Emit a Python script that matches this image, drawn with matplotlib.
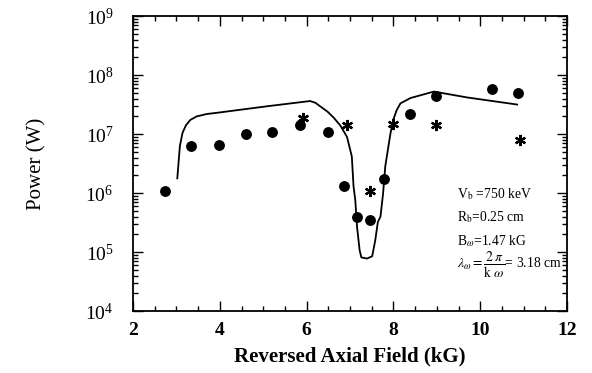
import numpy as np
import matplotlib
matplotlib.use("Agg")
import matplotlib.pyplot as plt
from matplotlib.ticker import LogLocator, MultipleLocator, NullFormatter

plt.rcParams['font.family'] = ['Liberation Serif', 'DejaVu Serif']
plt.rcParams['mathtext.fontset'] = 'stix'

# measured output power (circles)
field_meas = [2.74, 3.34, 3.98, 4.60, 5.21, 5.84, 6.48, 6.85, 7.16, 7.47, 7.77, 8.37, 8.97, 10.27, 10.86]
power_meas = [1.1e6, 6.3e6, 6.6e6, 1.0e7, 1.07e7, 1.45e7, 1.1e7, 1.3e6, 4.0e5, 3.5e5, 1.75e6, 2.15e7, 4.4e7, 5.8e7, 5.0e7]

# second data set (asterisks)
field_star = [5.91, 6.94, 7.47, 8.00, 8.97, 10.91]
power_star = [1.85e7, 1.4e7, 1.1e6, 1.5e7, 1.4e7, 7.9e6]

# simulation curve
field_sim = [3.02, 3.08, 3.14, 3.22, 3.32, 3.47, 3.70, 3.93, 5.08, 6.08, 6.20, 6.33, 6.48,
             6.62, 6.78, 6.93, 7.04, 7.08, 7.12, 7.16, 7.22, 7.26, 7.39, 7.51, 7.58, 7.64,
             7.70, 7.76, 7.81, 7.87, 7.93, 8.00, 8.07, 8.16, 8.39, 8.93, 9.70, 10.85]
logp_sim = [6.25, 6.80, 7.02, 7.15, 7.24, 7.30, 7.34, 7.36, 7.47, 7.56, 7.53, 7.46, 7.38,
            7.28, 7.14, 6.95, 6.62, 6.11, 5.88, 5.43, 5.03, 4.91, 4.89, 4.93, 5.20, 5.51,
            5.60, 5.99, 6.45, 6.73, 7.01, 7.25, 7.40, 7.52, 7.61, 7.72, 7.62, 7.50]
power_sim = 10 ** np.array(logp_sim)

fig = plt.figure(figsize=(5.92, 3.73), dpi=100)
ax = fig.add_axes([0.2247, 0.166, 0.7333, 0.791])

ax.plot(field_sim, power_sim, color='black', lw=1.3)
ax.plot(field_meas, power_meas, 'o', color='black', ms=6.8)
ax.plot(field_star, power_star, linestyle='none', marker=(6, 2, 0), color='black',
        ms=8, mew=1.6)

ax.set_yscale('log')
ax.set_xlim(2, 12)
ax.set_ylim(1e4, 1e9)
ax.xaxis.set_major_locator(MultipleLocator(2))
ax.xaxis.set_minor_locator(MultipleLocator(0.5))
ax.yaxis.set_major_locator(LogLocator(base=10, numticks=10))
ax.yaxis.set_minor_locator(LogLocator(base=10, subs=np.arange(2, 10), numticks=20))
ax.yaxis.set_minor_formatter(NullFormatter())

ax.tick_params(which='both', direction='in', top=True, right=True, width=1)
ax.tick_params(which='major', length=7)
ax.tick_params(which='minor', length=3.5)
ax.tick_params(axis='x', labelsize=14, pad=8)
ax.tick_params(axis='y', labelsize=14, pad=14)
for lbl in ax.get_xticklabels():
    lbl.set_fontweight('bold')
for sp in ax.spines.values():
    sp.set_linewidth(1.3)

ax.set_xlabel('Reversed Axial Field (kG)', fontsize=15, fontweight='bold', labelpad=5)
ax.set_ylabel('Power (W)', fontsize=15, labelpad=28)

fs = 9.8
tx = 9.47
ax.text(tx, 10**5.98, r'V$_\mathrm{b}$ =750 keV', fontsize=fs, va='center')
ax.text(tx, 10**5.60, r'R$_\mathrm{b}$=0.25 cm', fontsize=fs, va='center')
ax.text(tx, 10**5.19, r'B$_\omega$=1.47 kG', fontsize=fs, va='center')
ax.text(tx, 10**4.78, r'$\lambda_\omega = \dfrac{2\,\pi}{\mathrm{k}\ \omega}$= 3.18 cm',
        fontsize=fs, va='center')

fig.savefig('out.png', dpi=100)
